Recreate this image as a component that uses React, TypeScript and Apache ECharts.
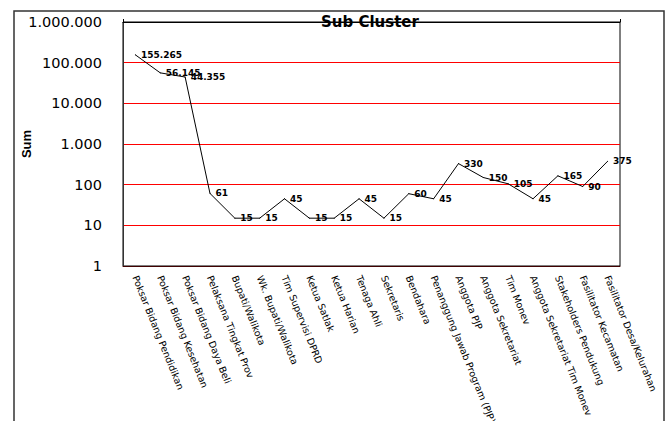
import React, { useEffect, useRef } from "react";
import * as echarts from "echarts";

const categories = [
  "Poksar Bidang Pendidikan",
  "Poksar Bidang Kesehatan",
  "Poksar Bidang Daya Beli",
  "Pelaksana Tingkat Prov",
  "Bupati/Walikota",
  "Wk. Bupati/Walikota",
  "Tim Supervisi DPRD",
  "Ketua Satlak",
  "Ketua Harian",
  "Tenaga Ahli",
  "Sekretaris",
  "Bendahara",
  "Penanggung Jawab Program (PJP)",
  "Anggota PJP",
  "Anggota Sekretariat",
  "Tim Monev",
  "Anggota Sekretariat Tim Monev",
  "Stakeholders Pendukung",
  "Fasilitator Kecamatan",
  "Fasilitator Desa/Kelurahan",
];

const sumValues = [155265, 56145, 44355, 61, 15, 15, 45, 15, 15, 45, 15, 60, 45, 330, 150, 105, 45, 165, 90, 375];

const titleText = "Sub Cluster";
const yAxisName = "Sum";

const fmt = (v: number) => String(Math.round(v)).replace(/\B(?=(\d{3})+(?!\d))/g, ".");

export default function App() {
  const ref = useRef<HTMLDivElement>(null);
  useEffect(() => {
    if (!ref.current) return;
    const chart = echarts.init(ref.current, undefined, { renderer: "svg" });
    chart.setOption({
      animation: false,
      backgroundColor: "#ffffff",
      title: {
        text: titleText,
        left: 321,
        top: 14,
        padding: 0,
        textStyle: { fontFamily: "DejaVu Sans", fontWeight: "bold", fontSize: 15, color: "#000" },
      },
      graphic: [
        {
          type: "rect",
          shape: { x: 14, y: 11, width: 650, height: 430 },
          style: { fill: "none", stroke: "#333", lineWidth: 1.5 },
          silent: true,
          z: -1,
        },
      ],
      grid: {
        left: 123,
        top: 22,
        right: 46,
        bottom: 155,
        outerBoundsMode: "none",
        containLabel: false,
        show: true,
        borderColor: "#000",
        borderWidth: 1,
        backgroundColor: "transparent",
      },
      xAxis: [
        {
          type: "category",
          data: categories,
          position: "bottom",
          boundaryGap: true,
          axisLine: { lineStyle: { color: "#400000", width: 1 } },
          axisTick: { show: false },
          axisLabel: {
            rotate: -68,
            interval: 0,
            margin: 10,
            fontFamily: "DejaVu Sans",
            fontSize: 9.5,
            color: "#000",
          },
        },
        {
          type: "category",
          data: categories,
          position: "top",
          boundaryGap: true,
          axisLine: { lineStyle: { color: "#000", width: 1 } },
          axisTick: { show: true, length: 3, lineStyle: { color: "#000" } },
          axisLabel: { show: false },
        },
      ],
      yAxis: {
        type: "log",
        logBase: 10,
        min: 1,
        max: 1000000,
        name: yAxisName,
        nameLocation: "middle",
        nameRotate: 90,
        nameGap: 90,
        nameMoveOverlap: false,
        nameTextStyle: { fontFamily: "Liberation Sans", fontWeight: "bold", fontSize: 13, color: "#000" },
        axisLine: { show: true, lineStyle: { color: "#333" } },
        axisTick: { show: false },
        axisLabel: {
          margin: 21,
          fontFamily: "DejaVu Sans",
          fontSize: 14.5,
          color: "#000",
          formatter: (v: number) => fmt(v),
        },
        splitLine: { show: true, lineStyle: { color: "#ff0000", width: 1 } },
      },
      series: [
        {
          type: "line",
          xAxisIndex: 0,
          data: sumValues,
          symbol: "circle",
          symbolSize: 1,
          showSymbol: true,
          itemStyle: { color: "#000" },
          lineStyle: { color: "#000", width: 1 },
          label: {
            show: true,
            position: "right",
            distance: 5,
            fontFamily: "DejaVu Sans",
            fontWeight: "bold",
            fontSize: 9,
            color: "#000",
            formatter: (p: any) => fmt(p.value),
          },
        },
      ],
    });
    return () => chart.dispose();
  }, []);
  return (
    <div
      ref={ref}
      style={{ position: "fixed", left: 0, top: 0, width: 666, height: 421, background: "#fff" }}
    />
  );
}
